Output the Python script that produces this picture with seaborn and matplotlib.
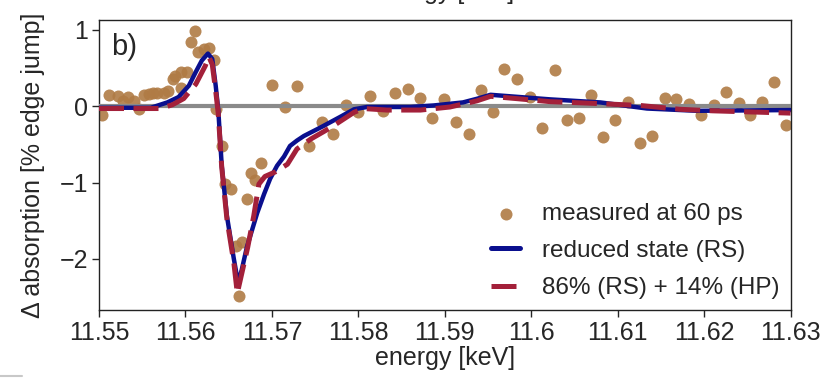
import numpy as np
import pandas as pd
import matplotlib
matplotlib.use("Agg")
import matplotlib.pyplot as plt
import seaborn as sns
from matplotlib.lines import Line2D

# ---- data ----
meas_E = [11.5504, 11.5511, 11.5522, 11.5528, 11.5533, 11.5540, 11.5546, 11.5552, 11.5558,
          11.5563, 11.5567, 11.5575, 11.5580, 11.5586, 11.5588, 11.5595, 11.5602, 11.5595,
          11.5607, 11.5611, 11.5615, 11.5621, 11.5627, 11.5633, 11.5635, 11.5642, 11.5646,
          11.5653, 11.5659, 11.5662, 11.5666, 11.5671, 11.5676, 11.5680, 11.5687, 11.5700,
          11.5715, 11.5729, 11.5743, 11.5758, 11.5771, 11.5786, 11.5800, 11.5814, 11.5829,
          11.5843, 11.5857, 11.5871, 11.5885, 11.5899, 11.5913, 11.5928, 11.5942, 11.5956,
          11.5969, 11.5984, 11.5999, 11.6012, 11.6027, 11.6041, 11.6055, 11.6069, 11.6083,
          11.6097, 11.6112, 11.6126, 11.6140, 11.6155, 11.6168, 11.6182, 11.6196, 11.6211,
          11.6225, 11.6240, 11.6253, 11.6267, 11.6281, 11.6295]
meas_val = [-0.12, 0.15, 0.14, 0.07, 0.12, 0.07, -0.03, 0.15, 0.16,
            0.17, 0.18, 0.18, 0.20, 0.36, 0.40, 0.45, 0.45, 0.24,
            0.84, 0.99, 0.71, 0.75, 0.76, 0.60, -0.04, -0.52, -1.02,
            -1.08, -1.83, -2.49, -1.78, -1.21, -0.87, -0.96, -0.75, 0.28,
            -0.01, 0.27, -0.52, -0.20, -0.37, 0.01, -0.07, 0.13, -0.06,
            0.18, 0.22, 0.11, -0.15, 0.10, -0.21, -0.36, 0.21, -0.07,
            0.49, 0.36, 0.12, -0.29, 0.48, -0.18, -0.16, 0.15, -0.40,
            -0.18, 0.05, -0.48, -0.39, 0.11, 0.09, 0.03, -0.11, 0.01,
            0.19, 0.04, -0.11, 0.05, 0.32, -0.25]

rs_E = [11.5500, 11.5560, 11.5579, 11.5592, 11.5604, 11.5612, 11.5619, 11.5626, 11.5631,
        11.5635, 11.5638, 11.5642, 11.5648, 11.5656, 11.5661, 11.5665, 11.5671, 11.5683,
        11.5691, 11.5698, 11.5706, 11.5714, 11.5721, 11.5729, 11.5737, 11.5756, 11.5779,
        11.5795, 11.5810, 11.5860, 11.5887, 11.5921, 11.5938, 11.5953, 11.5976, 11.6022,
        11.6080, 11.6134, 11.6192, 11.6300]
rs_val = [-0.02, -0.02, 0.05, 0.12, 0.27, 0.45, 0.60, 0.69, 0.62,
          0.27, -0.05, -0.78, -1.44, -2.00, -2.32, -2.15, -1.85, -1.40,
          -1.15, -0.95, -0.78, -0.66, -0.52, -0.45, -0.39, -0.28, -0.14,
          -0.04, -0.01, -0.01, 0.01, 0.05, 0.10, 0.15, 0.13, 0.09,
          0.05, -0.03, -0.06, -0.05]

mix_E = [11.5500, 11.5571, 11.5585, 11.5598, 11.5612, 11.5623, 11.5627, 11.5631, 11.5635,
         11.5638, 11.5642, 11.5648, 11.5656, 11.5660, 11.5665, 11.5672, 11.5679, 11.5685,
         11.5692, 11.5704, 11.5718, 11.5729, 11.5745, 11.5768, 11.5795, 11.5806, 11.5833,
         11.5872, 11.5906, 11.5937, 11.5953, 11.5983, 11.6022, 11.6068, 11.6126, 11.6172,
         11.6210, 11.6300]
mix_val = [-0.03, -0.03, 0.02, 0.10, 0.29, 0.53, 0.65, 0.55, 0.20,
           -0.10, -0.80, -1.48, -2.05, -2.45, -2.20, -1.85, -1.44, -1.02,
           -0.92, -0.86, -0.76, -0.56, -0.43, -0.28, -0.08, -0.03, -0.05,
           -0.05, -0.01, 0.07, 0.13, 0.10, 0.06, 0.04, 0.01, -0.04,
           -0.06, -0.09]

x_ticks = [11.55, 11.56, 11.57, 11.58, 11.59, 11.60, 11.61, 11.62, 11.63]
x_ticklabels = ["11.55", "11.56", "11.57", "11.58", "11.59", "11.6", "11.61", "11.62", "11.63"]
y_ticks = [1, 0, -1, -2]

labels = ["measured at 60 ps", "reduced state (RS)", "86% (RS) + 14% (HP)"]

# ---- styling ----
sns.set_style("ticks")
plt.rcParams["font.family"] = ["Liberation Sans", "DejaVu Sans"]
plt.rcParams["axes.unicode_minus"] = True

C_PTS = "#b07b45"
C_RS = "#0a0f8e"
C_MIX = "#a3203a"

fig = plt.figure(figsize=(8.27, 3.81), dpi=100)
ax = fig.add_axes([99 / 827, 1 - 310 / 381, (790.5 - 99) / 827, (310 - 20) / 381])

df_m = pd.DataFrame({"E": meas_E, "v": meas_val})
df_rs = pd.DataFrame({"E": rs_E, "v": rs_val})
df_mix = pd.DataFrame({"E": mix_E, "v": mix_val})

sns.scatterplot(data=df_m, x="E", y="v", ax=ax, color=C_PTS, s=75, alpha=0.9,
                linewidth=0, zorder=2, label=labels[0])
ax.axhline(0, color="#8a8a8a", lw=3, zorder=3)
sns.lineplot(data=df_rs, x="E", y="v", ax=ax, color=C_RS, lw=3.2, sort=False,
             estimator=None, zorder=4, label=labels[1])
sns.lineplot(data=df_mix, x="E", y="v", ax=ax, color=C_MIX, lw=3.6, sort=False,
             estimator=None, zorder=5, label=labels[2], dashes=False)
ax.lines[-1].set_dashes((5.0, 1.9))

ax.set_xlim(11.55, 11.63)
ax.set_ylim(-2.67, 1.13)
ax.set_xticks(x_ticks)
ax.set_xticklabels(x_ticklabels)
ax.set_yticks(y_ticks)
ax.tick_params(labelsize=18, length=5, width=1, direction="out", pad=3)
ax.set_xlabel("energy [keV]", fontsize=18, labelpad=1)
ax.set_ylabel("Δ absorption [% edge jump]", fontsize=18, labelpad=10)
for sp in ax.spines.values():
    sp.set_linewidth(1.0)
    sp.set_color("#222222")

ax.text(0.018, 0.955, "b)", transform=ax.transAxes, fontsize=21, va="top", ha="left")

leg = ax.legend(loc="lower right", bbox_to_anchor=(1.0, 0.0), frameon=False,
                fontsize=17.5, handlelength=1.2, handletextpad=0.9, labelspacing=0.62,
                borderaxespad=0.05, markerscale=1.0)
for h in leg.legend_handles[1:]:
    h.set_linewidth(3.6)

# cut-off axis label of the panel above
fig.text(444.5 / 827, 1 + 1 / 381, "energy [keV]", fontsize=18, ha="center", va="baseline")
fig.add_artist(Line2D([0, 22 / 827], [1 - 376 / 381, 1 - 376 / 381], color="#c8c8c8", lw=1.5))

fig.savefig("out.png", dpi=100)
